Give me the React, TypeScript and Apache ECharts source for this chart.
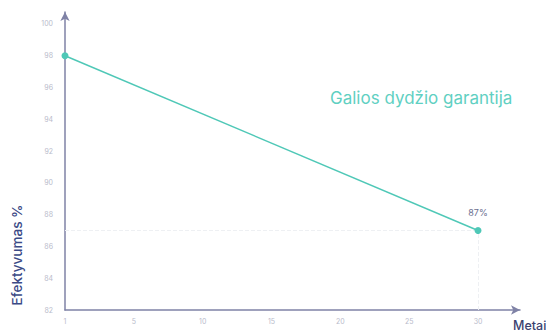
import React, { useEffect, useRef } from "react";
import * as echarts from "echarts";

const yearLabels = ["1", "5", "10", "15", "20", "25", "30"];
const startValue = 98;
const endValue = 87;
const endLabel = "87%";
const yTicks = [82, 84, 86, 88, 90, 92, 94, 96, 98, 100];
const titleText = "Galios dydžio garantija";
const yName = "Efektyvumas %";
const xName = "Metai";

export default function App() {
  const ref = useRef<HTMLDivElement>(null);
  useEffect(() => {
    if (!ref.current) return;
    const chart = echarts.init(ref.current, undefined, { renderer: "svg" });
    const lastIdx = yearLabels.length - 1;
    const axisColor = "#7f82a6";
    chart.setOption({
      animation: false,
      grid: { left: 65, right: 26, top: 12, bottom: 26, containLabel: false },
      xAxis: {
        type: "value",
        min: 0,
        max: 6.61,
        interval: 1,
        splitLine: { show: false },
        axisTick: { show: false },
        axisLine: {
          lineStyle: { color: axisColor, width: 1.5 },
          symbol: ["none", "arrow"],
          symbolSize: [7, 9],
        },
        axisLabel: {
          color: "#b9bbcb",
          fontSize: 7,
          margin: 8,
          fontFamily: "Inter",
          formatter: (v: number) =>
            Number.isInteger(v) && yearLabels[v] !== undefined ? yearLabels[v] : "",
        },
      },
      yAxis: {
        type: "value",
        min: yTicks[0],
        max: 100.75,
        interval: 2,
        splitLine: { show: false },
        axisTick: { show: false },
        axisLine: {
          show: true,
          lineStyle: { color: axisColor, width: 1.5 },
          symbol: ["none", "arrow"],
          symbolSize: [7, 9],
        },
        axisLabel: {
          color: "#b9bbcb",
          fontSize: 7,
          margin: 12,
          fontFamily: "Inter",
          formatter: (v: number) => (yTicks.includes(v) ? String(v) : ""),
        },
      },
      series: [
        {
          type: "line",
          z: 1,
          data: [],
          markLine: {
            silent: true,
            symbol: "none",
            label: { show: false },
            lineStyle: { color: "#eef0f3", type: "dashed", width: 1 },
            data: [
              [{ coord: [0, endValue] }, { coord: [lastIdx, endValue] }],
              [{ coord: [lastIdx, yTicks[0]] }, { coord: [lastIdx, endValue] }],
            ],
          },
        },
        {
          type: "line",
          z: 5,
          data: [
            [0, startValue],
            { value: [lastIdx, endValue], label: { show: true, formatter: endLabel } },
          ],
          lineStyle: { color: "#4fc8b7", width: 1.5 },
          itemStyle: { color: "#4fc8b7", borderWidth: 0 },
          symbol: "circle",
          symbolSize: 7,
          label: {
            show: false,
            position: "top",
            distance: 10,
            color: "#6c7090",
            fontSize: 9,
            fontFamily: "Inter",
          },
        },
      ],
      graphic: [
        {
          type: "text",
          left: 330,
          top: 89,
          style: {
            text: titleText,
            fill: "#5fd0c2",
            fontSize: 17,
            fontFamily: "Inter",
          },
        },
        {
          type: "text",
          x: 17,
          y: 255,
          rotation: Math.PI / 2,
          style: {
            text: yName,
            fill: "#3b4a86",
            fontSize: 13.5,
            fontFamily: "Inter",
            fontWeight: 500,
            align: "center",
            verticalAlign: "middle",
          },
        },
        {
          type: "text",
          left: 513,
          top: 319,
          style: {
            text: xName,
            fill: "#3b4270",
            fontSize: 12.5,
            fontFamily: "Inter",
            fontWeight: 500,
          },
        },
      ],
    });
    return () => chart.dispose();
  }, []);
  return <div ref={ref} style={{ width: 546, height: 336, position: "absolute", left: 0, top: 0 }} />;
}
